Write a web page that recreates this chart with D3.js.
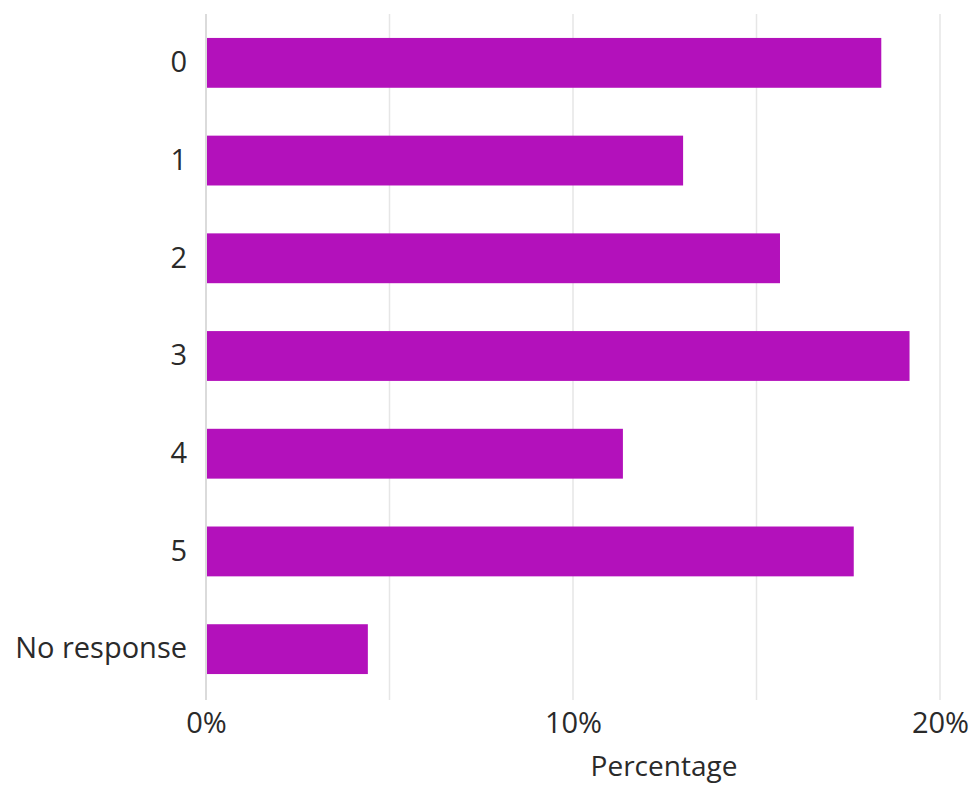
<!DOCTYPE html>
<html><head><meta charset="utf-8">
<script src="https://cdn.jsdelivr.net/npm/d3@7"></script>
<style>body{margin:0;background:#fff}text{font-family:"Open Sans","Noto Sans",sans-serif;fill:#2a2a2a}</style>
</head><body><svg id="c" width="974" height="787"></svg>
<script>
const categories = ["0","1","2","3","4","5","No response"];
const values = [18.4, 13.0, 15.64, 19.17, 11.36, 17.65, 4.41];
const xTicks = [0, 10, 20];
const gridTicks = [0, 5, 10, 15, 20];
const xTitle = "Percentage";

const svg = d3.select("#c");
const x = d3.scaleLinear().domain([0, 20]).range([206, 940]);
const y = d3.scaleBand().domain(categories).range([14, 698]).paddingInner(0.49).paddingOuter(0.245);

svg.append("g").selectAll("line").data(gridTicks).join("line")
  .attr("x1", d => x(d)).attr("x2", d => x(d))
  .attr("y1", 14).attr("y2", 700)
  .attr("stroke", d => d === 0 ? "#cfcfcf" : "#e6e6e6").attr("stroke-width", 1.5);

svg.append("g").selectAll("rect").data(values).join("rect")
  .attr("x", x(0) + 1).attr("y", (d, i) => y(categories[i]))
  .attr("width", d => x(d) - x(0) - 1).attr("height", y.bandwidth())
  .attr("fill", "#b311bb");

const yAxis = svg.append("g").attr("transform", `translate(${x(0)},0)`)
  .call(d3.axisLeft(y).tickSize(0).tickPadding(19));
yAxis.select(".domain").remove();
yAxis.selectAll("text").style("font-size", "29px").attr("fill", "#2a2a2a");

const xAxis = svg.append("g").attr("transform", "translate(0,700)")
  .call(d3.axisBottom(x).tickValues(xTicks).tickFormat(d => d + "%").tickSize(0).tickPadding(12));
xAxis.select(".domain").remove();
xAxis.selectAll("text").style("font-size", "29px").attr("fill", "#2a2a2a");

svg.append("text").attr("x", 664).attr("y", 776).attr("text-anchor", "middle")
  .style("font-size", "28px").text(xTitle);
</script></body></html>
